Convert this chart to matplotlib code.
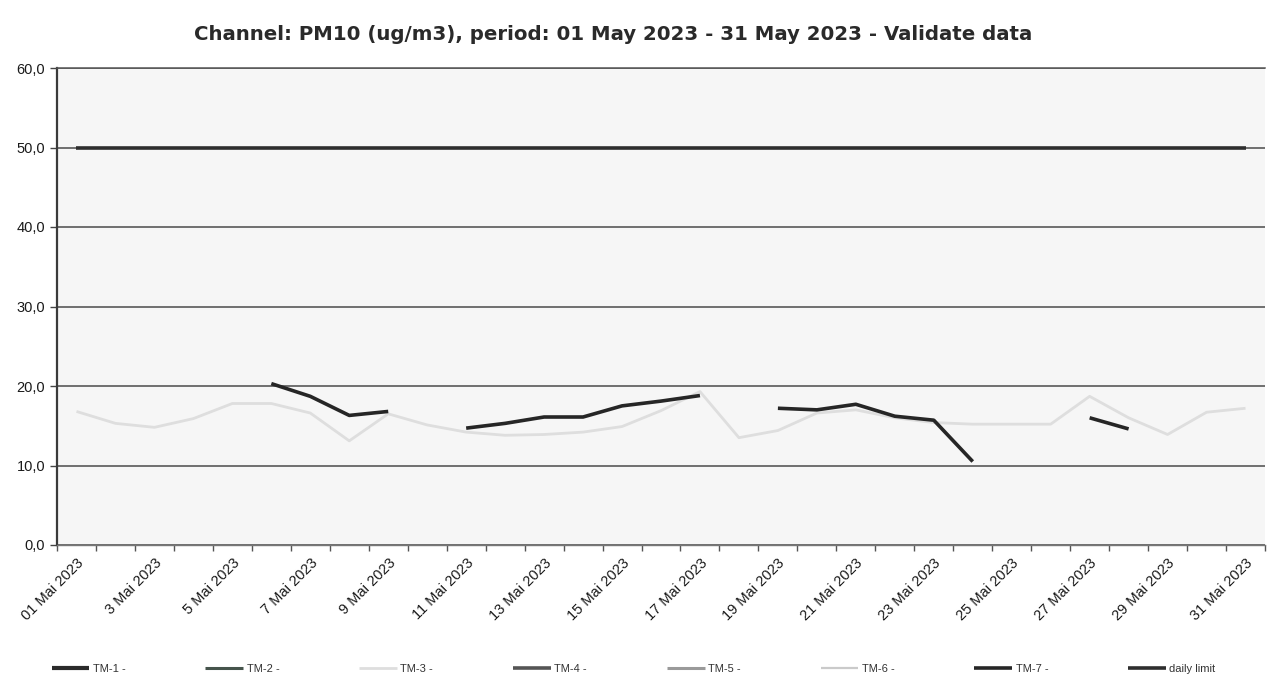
import numpy as np
import matplotlib
matplotlib.use("Agg")
import matplotlib.pyplot as plt
from matplotlib.ticker import FixedLocator, FuncFormatter

nan = np.nan
days = list(range(1, 32))
tick_days = list(range(1, 32, 2))
tick_labels = ["01 Mai 2023"] + [f"{d} Mai 2023" for d in range(3, 32, 2)]

series_names = ["TM-1 -", "TM-2 -", "TM-3 -", "TM-4 -", "TM-5 -", "TM-6 -", "TM-7 -", "daily limit"]

tm1 = [nan] * 31
tm2 = [nan] * 31
tm3 = [16.8, 15.3, 14.8, 15.9, 17.8, 17.8, 16.6, 13.1, 16.5, 15.1,
       14.2, 13.8, 13.9, 14.2, 14.9, 16.9, 19.3, 13.5, 14.4, 16.6,
       17.0, 16.0, 15.4, 15.2, 15.2, 15.2, 18.7, 16.0, 13.9, 16.7, 17.2]
tm4 = [nan] * 31
tm5 = [nan] * 31
tm6 = [nan] * 31
tm7 = [nan, nan, nan, nan, nan, 20.3, 18.7, 16.3, 16.8, nan,
       14.7, 15.3, 16.1, 16.1, 17.5, 18.1, 18.8, nan, 17.2, 17.0,
       17.7, 16.2, 15.7, 10.5, nan, nan, 16.0, 14.6, nan, nan, nan]
daily_limit = [50.0] * 31

styles = [
    dict(color="#2b2b2b", lw=3.0),
    dict(color="#46544c", lw=2.2),
    dict(color="#dedede", lw=2.0),
    dict(color="#555555", lw=2.6),
    dict(color="#9a9a9a", lw=2.2),
    dict(color="#cacaca", lw=1.6),
    dict(color="#262626", lw=2.6),
    dict(color="#2e2e2e", lw=2.6),
]

fig = plt.figure(figsize=(12.67, 6.84), dpi=100)
ax = fig.add_axes([57 / 1267, 1 - 545 / 684, 1208 / 1267, (545 - 68) / 684])
ax.set_facecolor("#f6f6f6")

for name, vals, st in zip(series_names, [tm1, tm2, tm3, tm4, tm5, tm6, tm7, daily_limit], styles):
    ax.plot(days, vals, label=name, solid_capstyle="butt", **st)

ax.set_xlim(0.5, 31.5)
ax.set_ylim(0, 60)
ax.set_yticks([0, 10, 20, 30, 40, 50, 60])
ax.yaxis.set_major_formatter(FuncFormatter(lambda v, p: f"{v:.1f}".replace(".", ",")))
ax.yaxis.grid(True, color="#4a4a4a", lw=1.1)
ax.set_axisbelow(True)

ax.set_xticks(tick_days)
ax.set_xticklabels(tick_labels, rotation=45, ha="right", rotation_mode="anchor",
                   fontsize=10.5, family="Liberation Sans", color="#1a1a1a")
ax.tick_params(axis="x", which="major", length=0, pad=8)
ax.xaxis.set_minor_locator(FixedLocator(np.arange(0.5, 32, 1)))
ax.tick_params(axis="x", which="minor", length=4, color="#555555", width=1)
ax.tick_params(axis="y", length=5, color="#444444", width=1, labelsize=10.5, labelcolor="#1a1a1a")
for lab in ax.get_yticklabels():
    lab.set_family("Liberation Sans")

ax.spines["right"].set_visible(False)
ax.spines["top"].set_color("#555555")
ax.spines["top"].set_linewidth(1.1)
ax.spines["left"].set_color("#3a3a3a")
ax.spines["left"].set_linewidth(1.6)
ax.spines["bottom"].set_color("#777777")
ax.spines["bottom"].set_linewidth(1.0)

fig.text(0.484, 1 - 34 / 684, "Channel: PM10 (ug/m3), period: 01 May 2023 - 31 May 2023 - Validate data",
         ha="center", va="center", fontsize=14.2, fontweight="bold", family="DejaVu Sans", color="#2a2a2a")

handles, labels = ax.get_legend_handles_labels()
leg = fig.legend(handles, labels, loc="center", bbox_to_anchor=(0.5, 1 - 669 / 684), ncol=8,
                 frameon=False, handlelength=3.4, handletextpad=0.3,
                 columnspacing=7.2, prop={"family": "Liberation Sans", "size": 8})
for t in leg.get_texts():
    t.set_color("#333333")

fig.savefig("out.png", dpi=100, facecolor="white")
